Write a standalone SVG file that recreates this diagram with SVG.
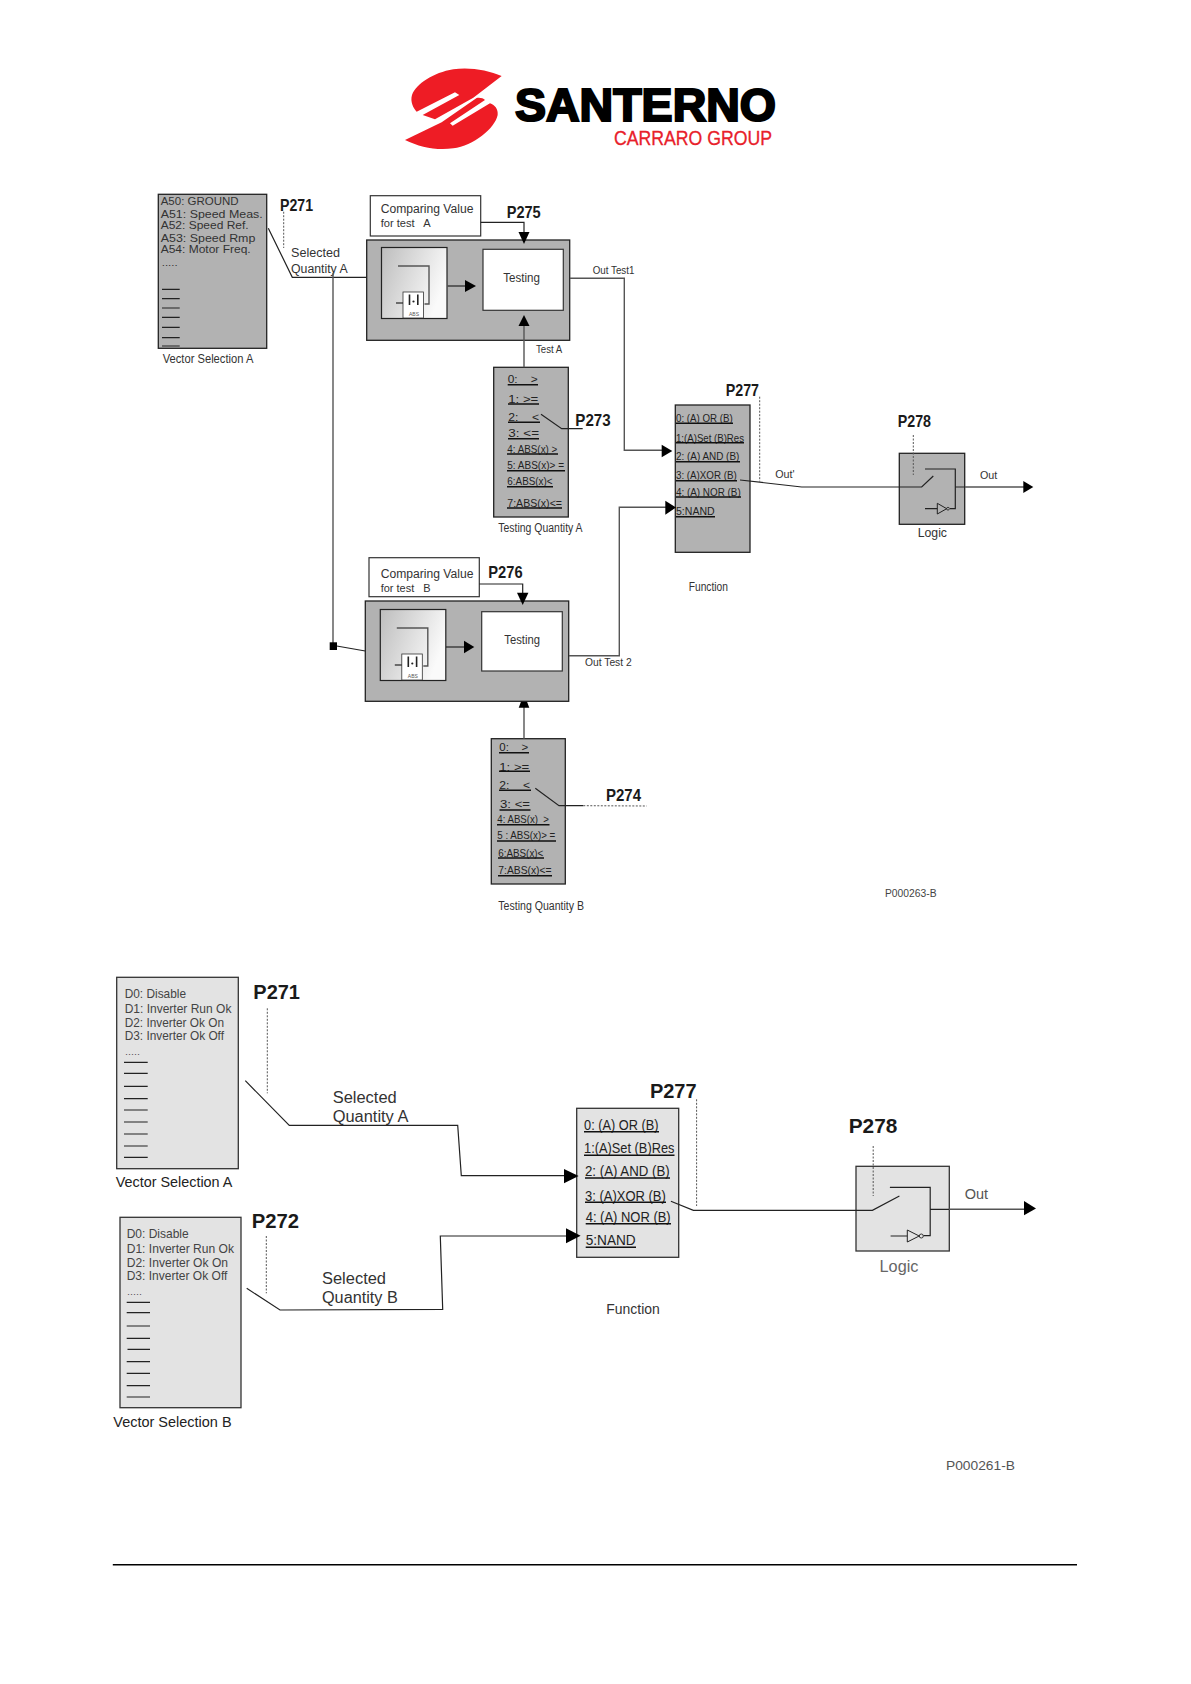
<svg xmlns="http://www.w3.org/2000/svg" xmlns:xlink="http://www.w3.org/1999/xlink" width="1191" height="1684" viewBox="0 0 1191 1684">
<style>
text{font-family:"Liberation Sans",Arial,sans-serif;fill:#333;}
.t{font-size:11px;}
.s{font-size:12px;fill:#333;}
.l{font-size:13px;fill:#444;}
.m{font-size:16px;fill:#333;}
.p{font-size:17px;font-weight:bold;fill:#1a1a1a;}
.q{font-size:21px;font-weight:bold;fill:#1a1a1a;}
.u{font-size:11.5px;fill:#222;}
.v{font-size:15px;fill:#222;}
.dk{fill:#b2b2b2;stroke:#222;stroke-width:1.3;}
.lt{fill:#e3e3e3;stroke:#333;stroke-width:1.3;}
.wh{fill:#fff;stroke:#333;stroke-width:1.2;}
.ln{fill:none;stroke:#222;stroke-width:1.2;}
.gl{fill:none;stroke:#555;stroke-width:1.4;}
.ul{fill:none;stroke:#111;stroke-width:1.6;}
.dot{fill:none;stroke:#555;stroke-width:1;stroke-dasharray:2 1.5;}
.ah{fill:#000;stroke:none;}
</style>
<defs>
<linearGradient id="gr" x1="0" y1="0" x2="1" y2="0.4"><stop offset="0" stop-color="#bdbdbd"/><stop offset="1" stop-color="#fafafa"/></linearGradient>
<g id="inner">
<rect x="0" y="0" width="65.5" height="71" fill="url(#gr)" stroke="#222" stroke-width="1.2"/>
<path class="gl" d="M16.5,18.5H47.5V56.5H43"/>
<rect x="21.5" y="44.5" width="20.5" height="26" fill="#fff" stroke="#333" stroke-width="0.8"/>
<path class="ln" d="M14.5,55.5H21.5"/>
<path fill="none" stroke="#222" stroke-width="1.6" d="M28,47V57.5M36.3,47V57.5"/>
<circle cx="32" cy="54" r="1.1" fill="#222"/>
<text x="27.5" y="68.5" style="font-size:5px;fill:#555">ABS</text>
</g>
</defs>

<g id="logo">
<g fill="#ee1c25" transform="translate(400 60) scale(0.3333)">
<path d="M305,48C265,30 205,20 160,28C100,38 48,72 36,105C30,125 40,145 50,155L165,97L178,105L68,165L105,178L220,113Z"/>
<path d="M15,240L125,187L230,114C240,112 250,115 255,120L150,190L158,197L270,130C285,135 295,148 293,165C285,205 220,258 160,265C110,272 60,262 15,240Z"/>
</g>
<text x="515" y="121" textLength="261" lengthAdjust="spacingAndGlyphs" style="font-size:46px;font-weight:bold;fill:#000;stroke:#000;stroke-width:2.2">SANTERNO</text>
<text x="614" y="145" textLength="158" lengthAdjust="spacingAndGlyphs" style="font-size:19.5px;fill:#e8202a;stroke:#e8202a;stroke-width:0.3">CARRARO GROUP</text>
</g>

<g id="vector-a">
<rect class="dk" x="158.3" y="194.3" width="108.4" height="154"/>
<text class="t" x="160.7" y="205" textLength="78" lengthAdjust="spacingAndGlyphs">A50: GROUND</text>
<text class="t" x="160.7" y="217.7" textLength="102" lengthAdjust="spacingAndGlyphs">A51: Speed Meas.</text>
<text class="t" x="160.7" y="228.7" textLength="88" lengthAdjust="spacingAndGlyphs">A52: Speed Ref.</text>
<text class="t" x="160.7" y="241.7" textLength="94.7" lengthAdjust="spacingAndGlyphs">A53: Speed Rmp</text>
<text class="t" x="160.7" y="253" textLength="90" lengthAdjust="spacingAndGlyphs">A54: Motor Freq.</text>
<text class="t" x="161.7" y="266" textLength="16" lengthAdjust="spacingAndGlyphs" style="font-size:9px">.....</text>
<path class="ln" d="M162,289.3H179.7M162,298.7H179.7M162,308H179.7M162,317.3H179.7M162,327.3H179.7M162,337.7H179.7M162,346H179.7"/>
<text class="s" x="162.7" y="362.7" textLength="90.7" lengthAdjust="spacingAndGlyphs">Vector Selection A</text>
</g>
<g id="p271-a"><text class="p" x="280" y="211" textLength="33" lengthAdjust="spacingAndGlyphs">P271</text>
<text class="s" x="291" y="256.7" textLength="49" lengthAdjust="spacingAndGlyphs">Selected</text>
<text class="s" x="291" y="272.7" textLength="56.7" lengthAdjust="spacingAndGlyphs">Quantity A</text></g>

<g id="compare-a">
<rect class="wh" x="370.3" y="195.7" width="110.4" height="40.3"/>
<text class="t" x="380.7" y="212.7" textLength="92.7" lengthAdjust="spacingAndGlyphs" style="font-size:12px">Comparing Value</text>
<text class="t" x="380.7" y="226.7" textLength="50" lengthAdjust="spacingAndGlyphs" xml:space="preserve">for test   A</text>
<text class="p" x="506.7" y="218.3" textLength="34" lengthAdjust="spacingAndGlyphs">P275</text>
</g>
<g id="test-a">
<rect class="dk" x="366.7" y="240" width="203" height="100.3"/>
<use xlink:href="#inner" href="#inner" x="381.5" y="247.5"/>
<path class="ln" d="M447.7,286H466"/>
<path class="ah" d="M465,280L476,286L465,292Z"/>
<rect class="wh" x="483" y="249.3" width="80.3" height="61"/>
<text class="s" x="503.3" y="281.7" textLength="36.7" lengthAdjust="spacingAndGlyphs">Testing</text>
<text class="t" x="536" y="353.3" textLength="26.3" lengthAdjust="spacingAndGlyphs">Test A</text>
<text class="t" x="592.7" y="274.3" textLength="41.7" lengthAdjust="spacingAndGlyphs">Out Test1</text>
</g>

<g id="quantity-a">
<rect class="dk" x="493.7" y="367.3" width="74.6" height="149.7"/>
<text class="u" x="507.7" y="382.7" xml:space="preserve" textLength="30" lengthAdjust="spacingAndGlyphs">0:    &gt;</text>
<text class="u" x="508.3" y="402.7" textLength="30" lengthAdjust="spacingAndGlyphs">1: &gt;=</text>
<text class="u" x="508.3" y="420.7" xml:space="preserve" textLength="30.7" lengthAdjust="spacingAndGlyphs">2:    &lt;</text>
<text class="u" x="508.3" y="437.3" textLength="30.7" lengthAdjust="spacingAndGlyphs">3: &lt;=</text>
<text class="u" x="507.3" y="453.3" textLength="50" lengthAdjust="spacingAndGlyphs">4: ABS(x) &gt;</text>
<text class="u" x="507.3" y="469.3" textLength="56.7" lengthAdjust="spacingAndGlyphs">5: ABS(x)&gt; =</text>
<text class="u" x="507.3" y="485.3" textLength="45.3" lengthAdjust="spacingAndGlyphs">6:ABS(x)&lt;</text>
<text class="u" x="507.3" y="506.7" textLength="54.7" lengthAdjust="spacingAndGlyphs">7:ABS(x)&lt;=</text>
<path class="ul" d="M507.7,384.7H538M508,404H539M508,422.3H540M508,438.7H539M507,454H558M507,470.7H565M507,486.7H553M507,508H562"/>
<text class="s" x="498.3" y="531.7" textLength="84.3" lengthAdjust="spacingAndGlyphs">Testing Quantity A</text>
<text class="p" x="575.3" y="426" textLength="35.3" lengthAdjust="spacingAndGlyphs">P273</text>
</g>

<g id="function-a">
<rect class="dk" x="675.3" y="405" width="74.7" height="147.3"/>
<text class="u" x="676" y="421.7" textLength="56.7" lengthAdjust="spacingAndGlyphs">0: (A) OR (B)</text>
<text class="u" x="676" y="441.7" textLength="68" lengthAdjust="spacingAndGlyphs">1:(A)Set (B)Res</text>
<text class="u" x="676" y="460" textLength="63.3" lengthAdjust="spacingAndGlyphs">2: (A) AND (B)</text>
<text class="u" x="676" y="479" textLength="60.7" lengthAdjust="spacingAndGlyphs">3: (A)XOR (B)</text>
<text class="u" x="676" y="495.7" textLength="64.7" lengthAdjust="spacingAndGlyphs">4: (A) NOR (B)</text>
<text class="u" x="676" y="515.3" textLength="38.7" lengthAdjust="spacingAndGlyphs">5:NAND</text>
<path class="ul" d="M676,423.3H733M676,442.7H744M676,461.7H740M676,480.7H737M676,497H741M676,516.7H715"/>
<text class="p" x="725.7" y="395.7" textLength="33.3" lengthAdjust="spacingAndGlyphs">P277</text>
<text class="s" x="688.7" y="590.7" textLength="39.3" lengthAdjust="spacingAndGlyphs">Function</text>
<text class="t" x="775.3" y="477.7" textLength="19.3" lengthAdjust="spacingAndGlyphs">Out'</text>
</g>

<g id="logic-a">
<rect class="dk" x="899.3" y="453.3" width="65.4" height="71"/>
<path class="ln" d="M899,487H921.7L933.3,476M925,469H955.3V508.7H950M955.3,487H965M925,508.7H937.3"/>
<path fill="none" stroke="#222" stroke-width="1" d="M937.3,503.3V514L946.7,508.7Z"/>
<circle cx="948" cy="508.7" r="1.4" fill="none" stroke="#222" stroke-width="0.8"/>
<text class="p" x="897.7" y="427.3" textLength="33.3" lengthAdjust="spacingAndGlyphs">P278</text>
<text class="s" x="917.7" y="537.3" textLength="29.3" lengthAdjust="spacingAndGlyphs" style="font-size:13px">Logic</text>
<text class="t" x="980" y="479" textLength="17.3" lengthAdjust="spacingAndGlyphs">Out</text>
</g>

<g id="compare-b">
<rect class="wh" x="369" y="557.7" width="110.3" height="39"/>
<text class="t" x="380.7" y="578.3" textLength="92.7" lengthAdjust="spacingAndGlyphs" style="font-size:12px">Comparing Value</text>
<text class="t" x="380.7" y="592" textLength="50" lengthAdjust="spacingAndGlyphs" xml:space="preserve">for test   B</text>
<text class="p" x="488.3" y="577.7" textLength="34.3" lengthAdjust="spacingAndGlyphs">P276</text>
</g>
<g id="test-b">
<rect class="dk" x="365.3" y="601" width="203.4" height="100.3"/>
<use xlink:href="#inner" href="#inner" x="380.3" y="609.5"/>
<path class="ln" d="M446,647H465"/>
<path class="ah" d="M464,640.7L474.3,647L464,653.3Z"/>
<rect class="wh" x="481.7" y="611.7" width="80.6" height="59.3"/>
<text class="s" x="504.3" y="644.3" textLength="35.7" lengthAdjust="spacingAndGlyphs">Testing</text>
<text class="t" x="585" y="665.7" textLength="46.7" lengthAdjust="spacingAndGlyphs">Out Test 2</text>
</g>

<g id="quantity-b">
<rect class="dk" x="491.3" y="738.7" width="74" height="145.3"/>
<text class="u" x="499.3" y="750.7" xml:space="preserve" textLength="29" lengthAdjust="spacingAndGlyphs">0:    &gt;</text>
<text class="u" x="499.3" y="770.7" textLength="30" lengthAdjust="spacingAndGlyphs">1: &gt;=</text>
<text class="u" x="499.3" y="789" xml:space="preserve" textLength="30.7" lengthAdjust="spacingAndGlyphs">2:    &lt;</text>
<text class="u" x="500" y="808.3" textLength="30" lengthAdjust="spacingAndGlyphs">3: &lt;=</text>
<text class="u" x="497.3" y="823.3" xml:space="preserve" textLength="51.7" lengthAdjust="spacingAndGlyphs">4: ABS(x)  &gt;</text>
<text class="u" x="497.3" y="839.3" textLength="58" lengthAdjust="spacingAndGlyphs">5 : ABS(x)&gt; =</text>
<text class="u" x="498.3" y="856.7" textLength="45" lengthAdjust="spacingAndGlyphs">6:ABS(x)&lt;</text>
<text class="u" x="498.3" y="874" textLength="53.3" lengthAdjust="spacingAndGlyphs">7:ABS(x)&lt;=</text>
<path class="ul" d="M499,752.7H529M499,771.3H530M499,790.3H531M499.5,810H530.5M497,824.7H549.5M497,841H556M498,858H544M498,875.7H552"/>
<text class="p" x="606" y="800.7" textLength="35" lengthAdjust="spacingAndGlyphs">P274</text>
<text class="s" x="498.3" y="910" textLength="85.7" lengthAdjust="spacingAndGlyphs">Testing Quantity B</text>
<text x="885" y="897" textLength="51.5" lengthAdjust="spacingAndGlyphs" style="font-size:10px;fill:#444">P000263-B</text>
</g>

<g id="vector-a2">
<rect class="lt" x="116.7" y="977.3" width="121.6" height="191.4"/>
<text class="l" x="124.7" y="998.3" textLength="61.3" lengthAdjust="spacingAndGlyphs">D0: Disable</text>
<text class="l" x="124.7" y="1013.3" textLength="106.7" lengthAdjust="spacingAndGlyphs">D1: Inverter Run Ok</text>
<text class="l" x="124.7" y="1026.7" textLength="99.3" lengthAdjust="spacingAndGlyphs">D2: Inverter Ok On</text>
<text class="l" x="124.7" y="1040" textLength="99.3" lengthAdjust="spacingAndGlyphs">D3: Inverter Ok Off</text>
<text x="125" y="1055" textLength="15" lengthAdjust="spacingAndGlyphs" style="font-size:9px;fill:#555">.....</text>
<path class="ln" d="M124,1062.3H147.7M124,1073.3H147.7M124,1086.3H147.7M124,1098.7H147.7M124,1110H147.7M124,1122H147.7M124,1134H147.7M124,1146H147.7M124,1157.3H147.7"/>
<text class="v" x="115.7" y="1186.7" textLength="116.7" lengthAdjust="spacingAndGlyphs">Vector Selection A</text>
<text class="q" x="253.3" y="999" textLength="46.7" lengthAdjust="spacingAndGlyphs">P271</text>
<text class="m" x="332.7" y="1102.7" textLength="64" lengthAdjust="spacingAndGlyphs">Selected</text>
<text class="m" x="332.7" y="1121.7" textLength="75.7" lengthAdjust="spacingAndGlyphs">Quantity A</text>
</g>

<g id="vector-b2">
<rect class="lt" x="120" y="1217.3" width="121" height="190.4"/>
<text class="l" x="126.7" y="1238.3" textLength="62" lengthAdjust="spacingAndGlyphs">D0: Disable</text>
<text class="l" x="126.7" y="1253.3" textLength="107.3" lengthAdjust="spacingAndGlyphs">D1: Inverter Run Ok</text>
<text class="l" x="126.7" y="1266.7" textLength="101.3" lengthAdjust="spacingAndGlyphs">D2: Inverter Ok On</text>
<text class="l" x="126.7" y="1280" textLength="100.7" lengthAdjust="spacingAndGlyphs">D3: Inverter Ok Off</text>
<text x="127" y="1295" textLength="15" lengthAdjust="spacingAndGlyphs" style="font-size:9px;fill:#555">.....</text>
<path class="ln" d="M126.7,1302.3H150M126.7,1312.7H150M126.7,1326H150M126.7,1338.3H150M127.5,1349.3H150M126.7,1361.7H150M126.7,1373.3H150M126.7,1385.7H150M126.7,1397H150"/>
<text class="v" x="113.3" y="1426.7" textLength="118.3" lengthAdjust="spacingAndGlyphs">Vector Selection B</text>
<text class="q" x="251.7" y="1227.7" textLength="47.3" lengthAdjust="spacingAndGlyphs">P272</text>
<text class="m" x="322" y="1284" textLength="64" lengthAdjust="spacingAndGlyphs">Selected</text>
<text class="m" x="322" y="1302.7" textLength="75.7" lengthAdjust="spacingAndGlyphs">Quantity B</text>
</g>

<g id="function-2">
<rect class="lt" x="576.7" y="1108.3" width="102" height="149"/>
<text class="v" x="584.1" y="1130" textLength="74.4" lengthAdjust="spacingAndGlyphs">0: (A) OR (B)</text>
<text class="v" x="584.1" y="1152.7" textLength="90.3" lengthAdjust="spacingAndGlyphs">1:(A)Set (B)Res</text>
<text class="v" x="585" y="1176" textLength="84.7" lengthAdjust="spacingAndGlyphs">2: (A) AND (B)</text>
<text class="v" x="585" y="1200.7" textLength="80.8" lengthAdjust="spacingAndGlyphs">3: (A)XOR (B)</text>
<text class="v" x="585.7" y="1222" textLength="85" lengthAdjust="spacingAndGlyphs">4: (A) NOR (B)</text>
<text class="v" x="585.7" y="1245.3" textLength="50" lengthAdjust="spacingAndGlyphs">5:NAND</text>
<path class="ul" d="M584,1131.7H659M584,1155.3H674.5M585,1178H670M585,1202.3H666M585.7,1223.7H671M585.7,1247.3H636"/>
<text class="q" x="649.9" y="1098" textLength="46.7" lengthAdjust="spacingAndGlyphs">P277</text>
<text class="s" x="606.3" y="1314" textLength="53.5" lengthAdjust="spacingAndGlyphs" style="font-size:15px">Function</text>
</g>

<g id="logic-2">
<rect class="lt" x="856" y="1166.3" width="93.3" height="84.7"/>
<path class="ln" d="M856,1210.3H872.4L899.4,1196M889.9,1187.3H930.2V1235.7H923.5M930.2,1209.3H949M890.6,1236H907.3"/>
<path fill="none" stroke="#222" stroke-width="1" d="M907.3,1230V1242L919.2,1236Z"/>
<circle cx="921.3" cy="1236" r="2" fill="none" stroke="#222" stroke-width="0.9"/>
<text class="q" x="848.7" y="1133.3" textLength="48.7" lengthAdjust="spacingAndGlyphs">P278</text>
<text class="m" x="879.6" y="1271.7" textLength="38.8" lengthAdjust="spacingAndGlyphs" style="fill:#666">Logic</text>
<text class="l" x="964.7" y="1198.7" textLength="23.4" lengthAdjust="spacingAndGlyphs" style="font-size:14px;fill:#555">Out</text>
</g>

<g id="footer">
<text x="946" y="1470" textLength="69" lengthAdjust="spacingAndGlyphs" style="font-size:13px;fill:#555">P000261-B</text>
<line x1="112.8" y1="1564.7" x2="1077" y2="1564.7" stroke="#000" stroke-width="1.4"/>
</g>

<g id="connectors">
<path class="ln" d="M268.3,228.3L292.3,277.3H366.7"/>
<path class="gl" d="M333,273V646"/>
<path class="ln" d="M336.7,646L365.3,651"/>
<rect class="ah" x="329.7" y="642.3" width="7.3" height="7.7"/>
<path class="ln" d="M480.7,222.3H524V234"/>
<path class="ah" d="M518.5,232H529.5L524,244Z"/>
<path class="gl" d="M524,367.3V325"/>
<path class="ah" d="M518.5,326H529.5L524,315Z"/>
<path class="gl" d="M570,278.3H624.3V450.3H663"/>
<path class="ah" d="M661.7,444.7L672.3,451L661.7,457.3Z"/>
<path class="gl" d="M569,655.7H619.3V507.3H667"/>
<path class="ah" d="M665.3,500.7L676,507.5L665.3,514.7Z"/>
<path class="ln" d="M479.3,584H522.7V594"/>
<path class="ah" d="M517,592.7H528.4L522.7,605Z"/>
<path class="gl" d="M524,738.7V707"/>
<path class="ah" d="M518.7,707.7H529.3L527,701.7H521Z"/>
<path class="ln" d="M740,480L801.7,487H899"/>
<path class="gl" d="M965,487H1024"/>
<path class="ah" d="M1023.3,481L1033.3,487L1023.3,493Z"/>
<path class="ln" d="M541,414.3L561.7,428.7H582.7"/>
<path class="ln" d="M535.3,788.3L559,805.7H583.3"/>
<path class="dot" d="M583.3,805.7L646.7,806"/>
<path class="dot" d="M283.7,211.7V248"/>
<path class="dot" d="M759.7,396.7V481.7"/>
<path class="dot" d="M913.3,435V475"/>
<path class="ln" d="M245.3,1080.7L289.3,1125.3H457.7L461.3,1175.7H565"/>
<path class="ah" d="M564,1169L578.6,1176L564,1183.3Z"/>
<path class="ln" d="M246.7,1288.3L280,1310L442.7,1309.3L440.3,1236H567"/>
<path class="ah" d="M566,1228.3L580.6,1235.8L566,1243.3Z"/>
<path class="ln" d="M670.9,1201.3L693.4,1210.3H856"/>
<path class="gl" d="M949,1209.3H1025"/>
<path class="ah" d="M1024,1201L1036,1208.5L1024,1215.3Z"/>
<path class="dot" d="M267.3,1008.3V1093.3"/>
<path class="dot" d="M266.3,1236V1293.3"/>
<path class="dot" d="M696.6,1099.3V1206"/>
<path class="dot" d="M873.2,1146V1196"/>
</g>
</svg>
